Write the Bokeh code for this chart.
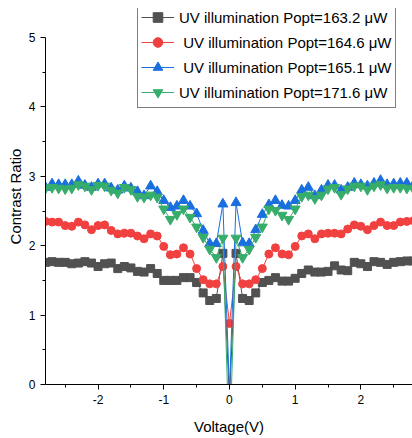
from bokeh.plotting import figure
from bokeh.models import Range1d, FixedTicker, Legend, LegendItem
from bokeh.embed import file_html
from bokeh.resources import INLINE

# ---------------- data ----------------
voltage = [round(-2.8 + 0.1 * i, 1) for i in range(57)]

cr_163_2 = [1.76, 1.77, 1.76, 1.76, 1.74, 1.75, 1.77, 1.75, 1.70, 1.74, 1.75, 1.67, 1.70, 1.68, 1.63,
            1.62, 1.67, 1.60, 1.50, 1.50, 1.50, 1.54, 1.54, 1.47, 1.32, 1.21, 1.24, 1.89,
            -0.2,
            1.89, 1.24, 1.21, 1.32, 1.47, 1.50, 1.54, 1.49, 1.49, 1.53, 1.60, 1.65, 1.62, 1.62,
            1.63, 1.71, 1.65, 1.64, 1.76, 1.74, 1.70, 1.77, 1.76, 1.73, 1.76, 1.77, 1.78, 1.78]

cr_164_6 = [2.35, 2.34, 2.34, 2.29, 2.28, 2.34, 2.30, 2.23, 2.29, 2.30, 2.22, 2.17, 2.18, 2.18, 2.14,
            2.10, 2.17, 2.14, 1.99, 1.87, 1.88, 1.97, 1.88, 1.67, 1.51, 1.45, 1.45, 1.70,
            0.88,
            1.70, 1.45, 1.45, 1.51, 1.67, 1.88, 1.97, 1.88, 1.87, 1.99, 2.14, 2.17, 2.10, 2.17,
            2.18, 2.18, 2.17, 2.24, 2.30, 2.28, 2.23, 2.29, 2.34, 2.29, 2.29, 2.34, 2.35, 2.36]

cr_165_1 = [2.84, 2.89, 2.88, 2.88, 2.88, 2.93, 2.87, 2.84, 2.89, 2.89, 2.83, 2.80, 2.86, 2.83, 2.78,
            2.72, 2.86, 2.78, 2.65, 2.55, 2.57, 2.65, 2.57, 2.46, 2.22, 2.03, 2.03, 2.60,
            -0.1,
            2.62, 2.04, 2.03, 2.23, 2.45, 2.59, 2.65, 2.58, 2.57, 2.65, 2.80, 2.84, 2.72, 2.80,
            2.87, 2.87, 2.80, 2.84, 2.90, 2.88, 2.86, 2.90, 2.94, 2.88, 2.89, 2.90, 2.90, 2.87]

cr_171_6 = [2.83, 2.84, 2.83, 2.82, 2.83, 2.88, 2.86, 2.81, 2.87, 2.86, 2.80, 2.76, 2.84, 2.81, 2.71,
            2.70, 2.73, 2.70, 2.53, 2.38, 2.45, 2.53, 2.41, 2.27, 2.12, 1.95, 1.83, 2.11,
            -1.0,
            2.11, 1.83, 1.95, 2.12, 2.27, 2.53, 2.51, 2.44, 2.38, 2.53, 2.71, 2.73, 2.68, 2.73,
            2.82, 2.84, 2.74, 2.82, 2.86, 2.86, 2.81, 2.86, 2.88, 2.83, 2.84, 2.84, 2.83, 2.82]

series_labels = ["UV illumination Popt=163.2 \u03bcW",
                 " UV illumination Popt=164.6 \u03bcW",
                 " UV illumination Popt=165.1 \u03bcW",
                 "UV illumination Popt=171.6 \u03bcW"]

x_ticks = [-2, -1, 0, 1, 2]
x_tick_labels = ["-2", "-1", "0", "1", "2"]
y_ticks = [0, 1, 2, 3, 4, 5]
y_tick_labels = ["0", "1", "2", "3", "4", "5"]

# ---------------- figure ----------------
FONT = "Liberation Sans"
p = figure(width=412, height=438, output_backend="svg", toolbar_location=None,
           x_range=Range1d(-2.8, 2.786), y_range=Range1d(0, 5.418),
           min_border_left=45, min_border_right=0, min_border_top=8, min_border_bottom=54)
p.outline_line_color = None
p.xgrid.visible = False
p.ygrid.visible = False
p.background_fill_color = "white"

colors = ["#515151", "#F14040", "#1A6FDF", "#37AD6B"]
markers = ["square", "circle", "triangle", "inverted_triangle"]
sizes = [8, 8, 10, 10]
datasets = [cr_163_2, cr_164_6, cr_165_1, cr_171_6]

items = []
for ys, c, m, s, lab in zip(datasets, colors, markers, sizes, series_labels):
    r1 = p.line(voltage, ys, line_color=c, line_width=1)
    r2 = p.scatter(voltage, ys, marker=m, size=s, fill_color=c, line_color=c)
    items.append(LegendItem(label=lab, renderers=[r1, r2]))

legend = Legend(items=items, location=(92, 276))
legend.label_text_font = FONT
legend.label_text_font_size = "15px"
legend.label_text_color = "black"
legend.glyph_width = 33
legend.glyph_height = 24
legend.label_height = 24
legend.label_standoff = 5
legend.spacing = 1
legend.padding = 3
legend.margin = 0
legend.border_line_color = "black"
legend.border_line_width = 1
legend.background_fill_alpha = 1.0
p.add_layout(legend, "center")

# axes
for ax in (p.xaxis[0], p.yaxis[0]):
    ax.axis_line_color = "black"
    ax.axis_line_width = 1
    ax.major_tick_line_color = "black"
    ax.minor_tick_line_color = "black"
    ax.major_tick_out = 5
    ax.major_tick_in = 0
    ax.minor_tick_out = 3
    ax.minor_tick_in = 0
    ax.major_label_text_font = FONT
    ax.major_label_text_font_size = "12px"
    ax.major_label_text_color = "black"
    ax.axis_label_text_font = FONT
    ax.axis_label_text_font_size = "15px"
    ax.axis_label_text_font_style = "normal"
    ax.axis_label_text_color = "black"

p.xaxis.ticker = FixedTicker(ticks=x_ticks, minor_ticks=[-2.5, -1.5, -0.5, 0.5, 1.5, 2.5])
p.xaxis.major_label_overrides = dict(zip(x_ticks, x_tick_labels))
p.xaxis.axis_label = "Voltage(V)"
p.xaxis.axis_label_standoff = 11
p.xaxis.major_label_standoff = 5

p.yaxis.ticker = FixedTicker(ticks=y_ticks, minor_ticks=[0.5, 1.5, 2.5, 3.5, 4.5])
p.yaxis.major_label_overrides = dict(zip(y_ticks, y_tick_labels))
p.yaxis.axis_label = "Contrast Ratio"
p.yaxis.axis_label_standoff = 2
p.yaxis.major_label_standoff = 5
p.yaxis.bounds = (0, 5)

open("out.html", "w").write(file_html(p, INLINE))
